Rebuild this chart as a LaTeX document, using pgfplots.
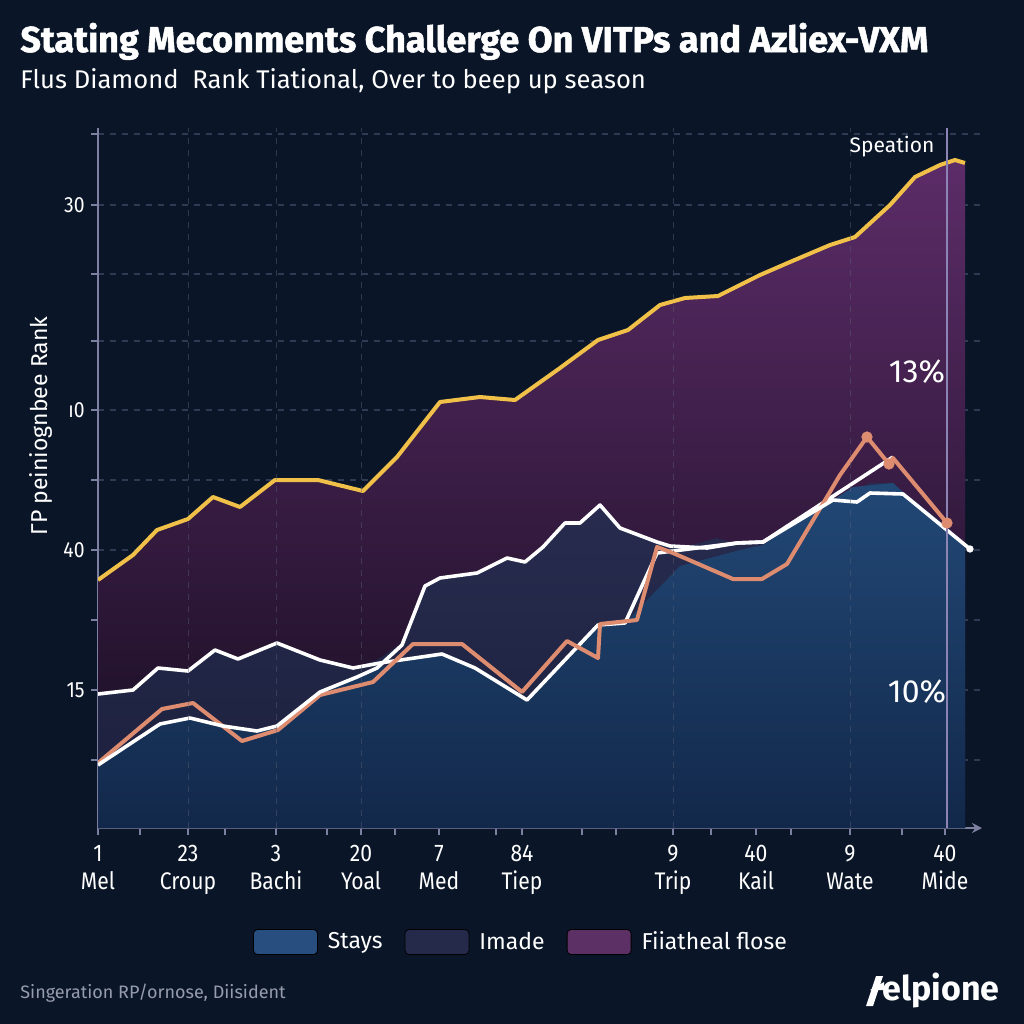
\documentclass[border=0pt]{standalone}
\usepackage{fontspec}
\setmainfont{Fira Sans}
\newfontfamily\condfont[FakeStretch=0.88]{Fira Sans}
\newfontfamily\titlefont[BoldFeatures={FakeBold=1.4}]{Fira Sans}
\usepackage{pgfplots}
\pgfplotsset{compat=1.18}
\usetikzlibrary{arrows.meta}

\definecolor{bg}{RGB}{10,22,40}
\definecolor{purtop}{RGB}{92,44,104}
\definecolor{purbot}{RGB}{20,12,30}
\definecolor{imtop}{RGB}{40,44,80}
\definecolor{imbot}{RGB}{28,32,60}
\definecolor{bluetop}{RGB}{34,72,118}
\definecolor{bluebot}{RGB}{18,40,74}
\definecolor{yel}{RGB}{240,192,72}
\definecolor{ora}{RGB}{222,140,112}
\definecolor{axc}{RGB}{125,128,160}
\definecolor{gridc}{RGB}{48,58,84}
\definecolor{legblue}{RGB}{40,78,128}
\definecolor{legnavy}{RGB}{38,42,74}
\definecolor{legpur}{RGB}{92,48,100}
\definecolor{vline}{RGB}{140,132,180}
\definecolor{foot}{RGB}{150,156,172}

\begin{document}
\begin{tikzpicture}[x=0.5pt,y=-0.5pt]
\fill[bg] (0,0) rectangle (1024,1024);

\node[anchor=base west, inner sep=0, text=white, font=\titlefont\bfseries\fontsize{18}{20}\selectfont] at (20,52) {Stating Meconments Challerge On VITPs and Azliex-VXM};
\node[anchor=base west, inner sep=0, text=white, font=\fontsize{12.8}{15}\selectfont] at (20,88) {Flus Diamond\ \ Rank Tiational, Over to beep up season};

\begin{axis}[
  at={(49pt,-414pt)}, anchor=south west,
  scale only axis, width=442pt, height=350pt,
  xmin=98, xmax=982, ymin=0, ymax=700,
  axis x line=bottom, axis y line=left,
  x axis line style={-{Stealth[length=5pt,width=5pt]}},
  y axis line style={-},
  axis line style={axc, line width=1pt},
  tick style={axc, line width=0.8pt},
  tick align=outside,
  major tick length=3.5pt,
  xtick={98,140,188,225,276,327,361,395,439,496,522,582,616,673,711,756,791,850,902,945},
  xticklabels={{1\\Mel},{},{23\\Croup},{},{3\\Bachi},{},{20\\Yoal},{},{7\\Med},{},{84\\Tiep},{},{},{9\\Trip},{},{40\\Kail},{},{9\\Wate},{},{40\\Mide}},
  xticklabel style={align=center, inner sep=0pt, yshift=-5pt, text=white, font=\condfont\fontsize{12}{14}\selectfont},
  ytick={68,138,208,278,348,418,487,554,623,694},
  yticklabels={{},{15},{},{40},{},{ı0},{},{},{30},{}},
  yticklabel style={inner sep=0pt, xshift=-3pt, text=white, font=\condfont\fontsize{11}{13}\selectfont},
  ymajorgrids, grid style={gridc, dashed, line width=0.6pt},
  legend style={at={(axis cs:522,-114)}, anchor=center, draw=none, fill=none,
    text=white, font=\fontsize{11.5}{14}\selectfont, legend columns=3,
    /tikz/every even column/.append style={column sep=9pt},
    /tikz/every odd column/.append style={column sep=3pt}},
  legend image code/.code={\fill[#1, rounded corners=2pt] (0pt,-6.25pt) rectangle (32pt,6.25pt);},
]
% Purple area (Fiiatheal flose)
\addplot[forget plot, draw=none, top color=purtop, bottom color=purbot] coordinates {
(98,248) (133,273) (157,298) (188,309) (213,331) (240,321) (275,348) (318,348) (363,337) (397,371)
(440,426) (480,431) (515,428) (560,460) (598,488) (628,498) (660,523) (685,530) (718,532) (760,553)
(790,566) (830,583) (855,591) (890,623) (915,651) (940,663) (955,668) (965,665) (965,0) (98,0)} -- cycle;
% Imade area
\addplot[forget plot, draw=none, top color=imtop, bottom color=imbot] coordinates {
(98,134) (133,138) (158,160) (188,157) (215,178) (238,169) (277,185) (320,168) (353,160) (377,168)
(402,185) (425,242) (440,250) (477,255) (507,270) (525,266) (543,281) (565,305) (580,305) (600,323)
(620,300) (657,286) (680,280) (717,290) (740,283) (763,286) (833,328) (870,345) (893,345) (903,336)
(947,301) (965,281) (965,0) (98,0)} -- cycle;
% Blue area (Stays)
\addplot[forget plot, draw=none, top color=bluetop, bottom color=bluebot] coordinates {
(98,63) (160,104) (190,110) (223,102) (257,97) (277,102) (320,136) (357,151) (377,160) (402,166)
(442,174) (475,160) (527,128) (598,203) (625,205) (680,262) (740,278) (763,283) (833,328) (853,341)
(893,345) (903,336) (947,301) (965,280) (965,0) (98,0)} -- cycle;

% Yellow line
\addplot[forget plot, yel, line width=2pt, line join=round] coordinates {
(98,248) (133,273) (157,298) (188,309) (213,331) (240,321) (275,348) (318,348) (363,337) (397,371)
(440,426) (480,431) (515,428) (560,460) (598,488) (628,498) (660,523) (685,530) (718,532) (760,553)
(790,566) (830,583) (855,591) (890,623) (915,651) (940,663) (955,668) (965,665)};
% White line 1
\addplot[forget plot, white, line width=1.8pt, line join=round] coordinates {
(98,134) (133,138) (158,160) (188,157) (215,178) (238,169) (277,185) (320,168) (353,160) (380,165)
(442,174) (475,160) (527,128) (598,203) (625,205) (657,275) (737,285) (763,286) (893,371)};
% Orange line
\addplot[forget plot, ora, line width=2pt, line join=round] coordinates {
(98,65) (162,119) (193,125) (242,87) (278,98) (320,133) (373,146) (413,184) (462,184) (522,136)
(567,187) (598,170) (600,204) (637,208) (657,281) (673,275) (733,249) (762,249) (787,264) (840,353)
(867,391) (889,364) (893,370) (947,305)};
\addplot[forget plot, only marks, mark=*, mark size=2.6pt, ora] coordinates {(867,391) (889,364) (947,305)};
% White line 2
\addplot[forget plot, white, line width=1.8pt, line join=round] coordinates {
(98,63) (160,104) (190,110) (223,102) (257,97) (277,102) (320,136) (357,151) (377,160) (402,183)
(425,242) (440,250) (477,255) (507,270) (525,266) (543,281) (565,305) (580,305) (600,323) (620,300)
(657,286) (670,282) (707,280) (737,285) (763,286) (833,328) (857,326) (870,335) (903,334) (970,279)};
\addplot[forget plot, only marks, mark=*, mark size=1.6pt, white] coordinates {(970,279)};

% vertical grid / marker lines
\foreach \xx in {188,276,361,673,850} {
  \edef\temp{\noexpand\draw[gridc!80!white, dashed, line width=0.5pt, opacity=0.45] (axis cs:\xx,0) -- (axis cs:\xx,700);}
  \temp
}
\draw[vline, line width=1pt] (axis cs:947,0) -- (axis cs:947,700);

\addlegendimage{fill=legblue}
\addlegendentry{Stays}
\addlegendimage{fill=legnavy}
\addlegendentry{Imade}
\addlegendimage{fill=legpur}
\addlegendentry{Fiiatheal flose}
\end{axis}

\node[rotate=90, text=white, font=\fontsize{11.5}{14}\selectfont] at (41,426) {ΓP peiniognbee Rank};
\node[text=white, font=\fontsize{10.5}{12}\selectfont] at (892,147) {Speation};
\node[text=white, font=\fontsize{16}{18}\selectfont] at (917,372) {13\%};
\node[text=white, font=\fontsize{16}{18}\selectfont] at (917,692) {10\%};

\node[anchor=base west, inner sep=0, text=foot, font=\fontsize{9}{11}\selectfont] at (20,998) {Singeration RP/ornose, Diisident};
\fill[white] (866,1006) -- (873,1006) -- (883,976) -- (876,976) -- cycle;
\fill[white] (870,990) -- (884,982) -- (884,990) -- cycle;
\node[anchor=base west, inner sep=0, text=white, font=\bfseries\fontsize{17}{20}\selectfont] at (882,1000) {elpione};
\end{tikzpicture}
\end{document}
